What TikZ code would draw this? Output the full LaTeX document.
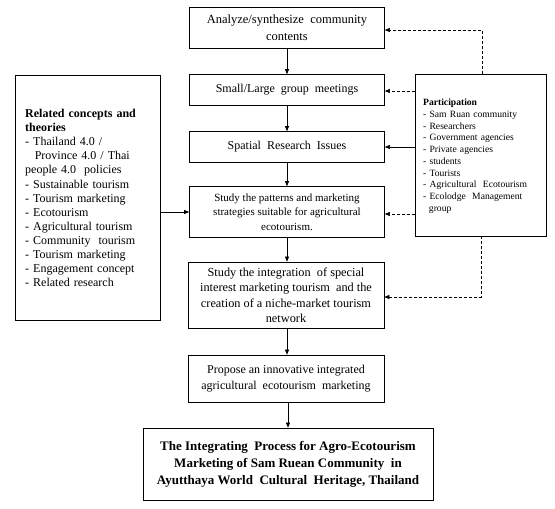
\documentclass[tikz,border=0pt]{standalone}
\usepackage{fontspec}
\setmainfont{Liberation Serif}
\usetikzlibrary{arrows.meta,calc}
\begin{document}
\begin{tikzpicture}[x=1pt,y=-1pt,
  box/.style={draw,line width=0.7pt,minimum width=195pt,align=center,inner sep=2pt},
  arr/.style={-{Triangle[length=5pt,width=4pt]},line width=0.6pt},
  darr/.style={arr,dashed,dash pattern=on 3pt off 2pt}]
\useasboundingbox (0,0) rectangle (555,509);
\node[box,minimum height=41pt,font=\fontsize{12.5}{16.5}\selectfont] (b1) at (287,27.5) {Analyze/synthesize\ \ community\\contents};
\node[box,minimum height=31pt,font=\fontsize{12}{14}\selectfont] (b2) at (287,90) {Small/Large\ \ group\ \ meetings};
\node[box,minimum height=31pt,font=\fontsize{12}{14}\selectfont] (b3) at (287,147) {Spatial\ \ Research\ \ Issues};
\node[box,minimum height=51pt,font=\fontsize{11}{14.5}\selectfont] (b4) at (287,212) {Study the patterns and marketing\\strategies suitable for agricultural\\ecotourism.};
\node[box,minimum width=196pt,minimum height=66pt,font=\fontsize{12.3}{15.5}\selectfont] (b5) at (286,295) {Study the integration\ \ of special\\interest marketing tourism\ \ and the\\creation of a niche-market tourism\\network};
\node[box,minimum width=196pt,minimum height=47pt,font=\fontsize{12}{16}\selectfont] (b6) at (286,378.5) {Propose an innovative integrated\\agricultural\ \ ecotourism\ \ marketing};
\node[box,minimum width=290pt,minimum height=72pt,font=\fontsize{13}{17}\selectfont\bfseries] (b7) at (288,464) {The Integrating\ \ Process for Agro-Ecotourism\\Marketing of Sam Ruean Community\ \ in\\Ayutthaya World\ \ Cultural\ \ Heritage, Thailand};
\node[draw,line width=0.7pt,minimum width=145pt,minimum height=245pt,inner sep=0pt] (lt) at (87.5,197.5) {};
\node[anchor=north west,align=left,text width=132pt,inner sep=0pt,font=\fontsize{12}{14.1}\selectfont] (ltt) at (25,109) {{\fontsize{12}{14}\selectfont\bfseries Related concepts and\\theories}\\- Thailand 4.0 /\\\hspace*{0.8em}Province 4.0 / Thai\\people 4.0\ \ policies\\- Sustainable tourism\\- Tourism marketing\\- Ecotourism\\- Agricultural tourism\\- Community\ \ tourism\\- Tourism marketing\\- Engagement concept\\- Related research};
\node[draw,line width=0.7pt,minimum width=131pt,minimum height=162pt,inner sep=0pt] (rt) at (480.5,155) {};
\node[anchor=north west,align=left,text width=120pt,inner sep=0pt,font=\fontsize{9.6}{11.7}\selectfont] (rtt) at (423,99) {\textbf{Participation}\\- Sam Ruan community\\- Researchers\\- Government agencies\\- Private agencies\\- students\\- Tourists\\- Agricultural\ \ Ecotourism\\- Ecolodge\ \ Management\\\hspace*{0.6em}group};
\draw[arr] (b1.south) -- (b2.north);
\draw[arr] (b2.south) -- (b3.north);
\draw[arr] (b3.south) -- (b4.north);
\draw[arr] (b4.south) -- (b4.south |- b5.north);
\draw[arr] (b5.south -| b4.south) -- (b4.south |- b6.north);
\draw[arr] (b6.south -| b7.north) -- (b7.north);
\draw[arr] (lt.east |- b4.west) -- (b4.west);
\coordinate (c1) at (482,30);
\draw[darr] (rt.north -| c1) -- (c1) -- (b1.east |- c1);
\draw[darr] (rt.west |- 0,91) -- (b2.east |- 0,91);
\draw[arr] (rt.west |- b3.east) -- (b3.east);
\draw[darr] (rt.west |- 0,214) -- (b4.east |- 0,214);
\coordinate (c2) at (481,297);
\draw[darr] (rt.south -| c2) -- (c2) -- (b5.east |- c2);
\end{tikzpicture}
\end{document}
